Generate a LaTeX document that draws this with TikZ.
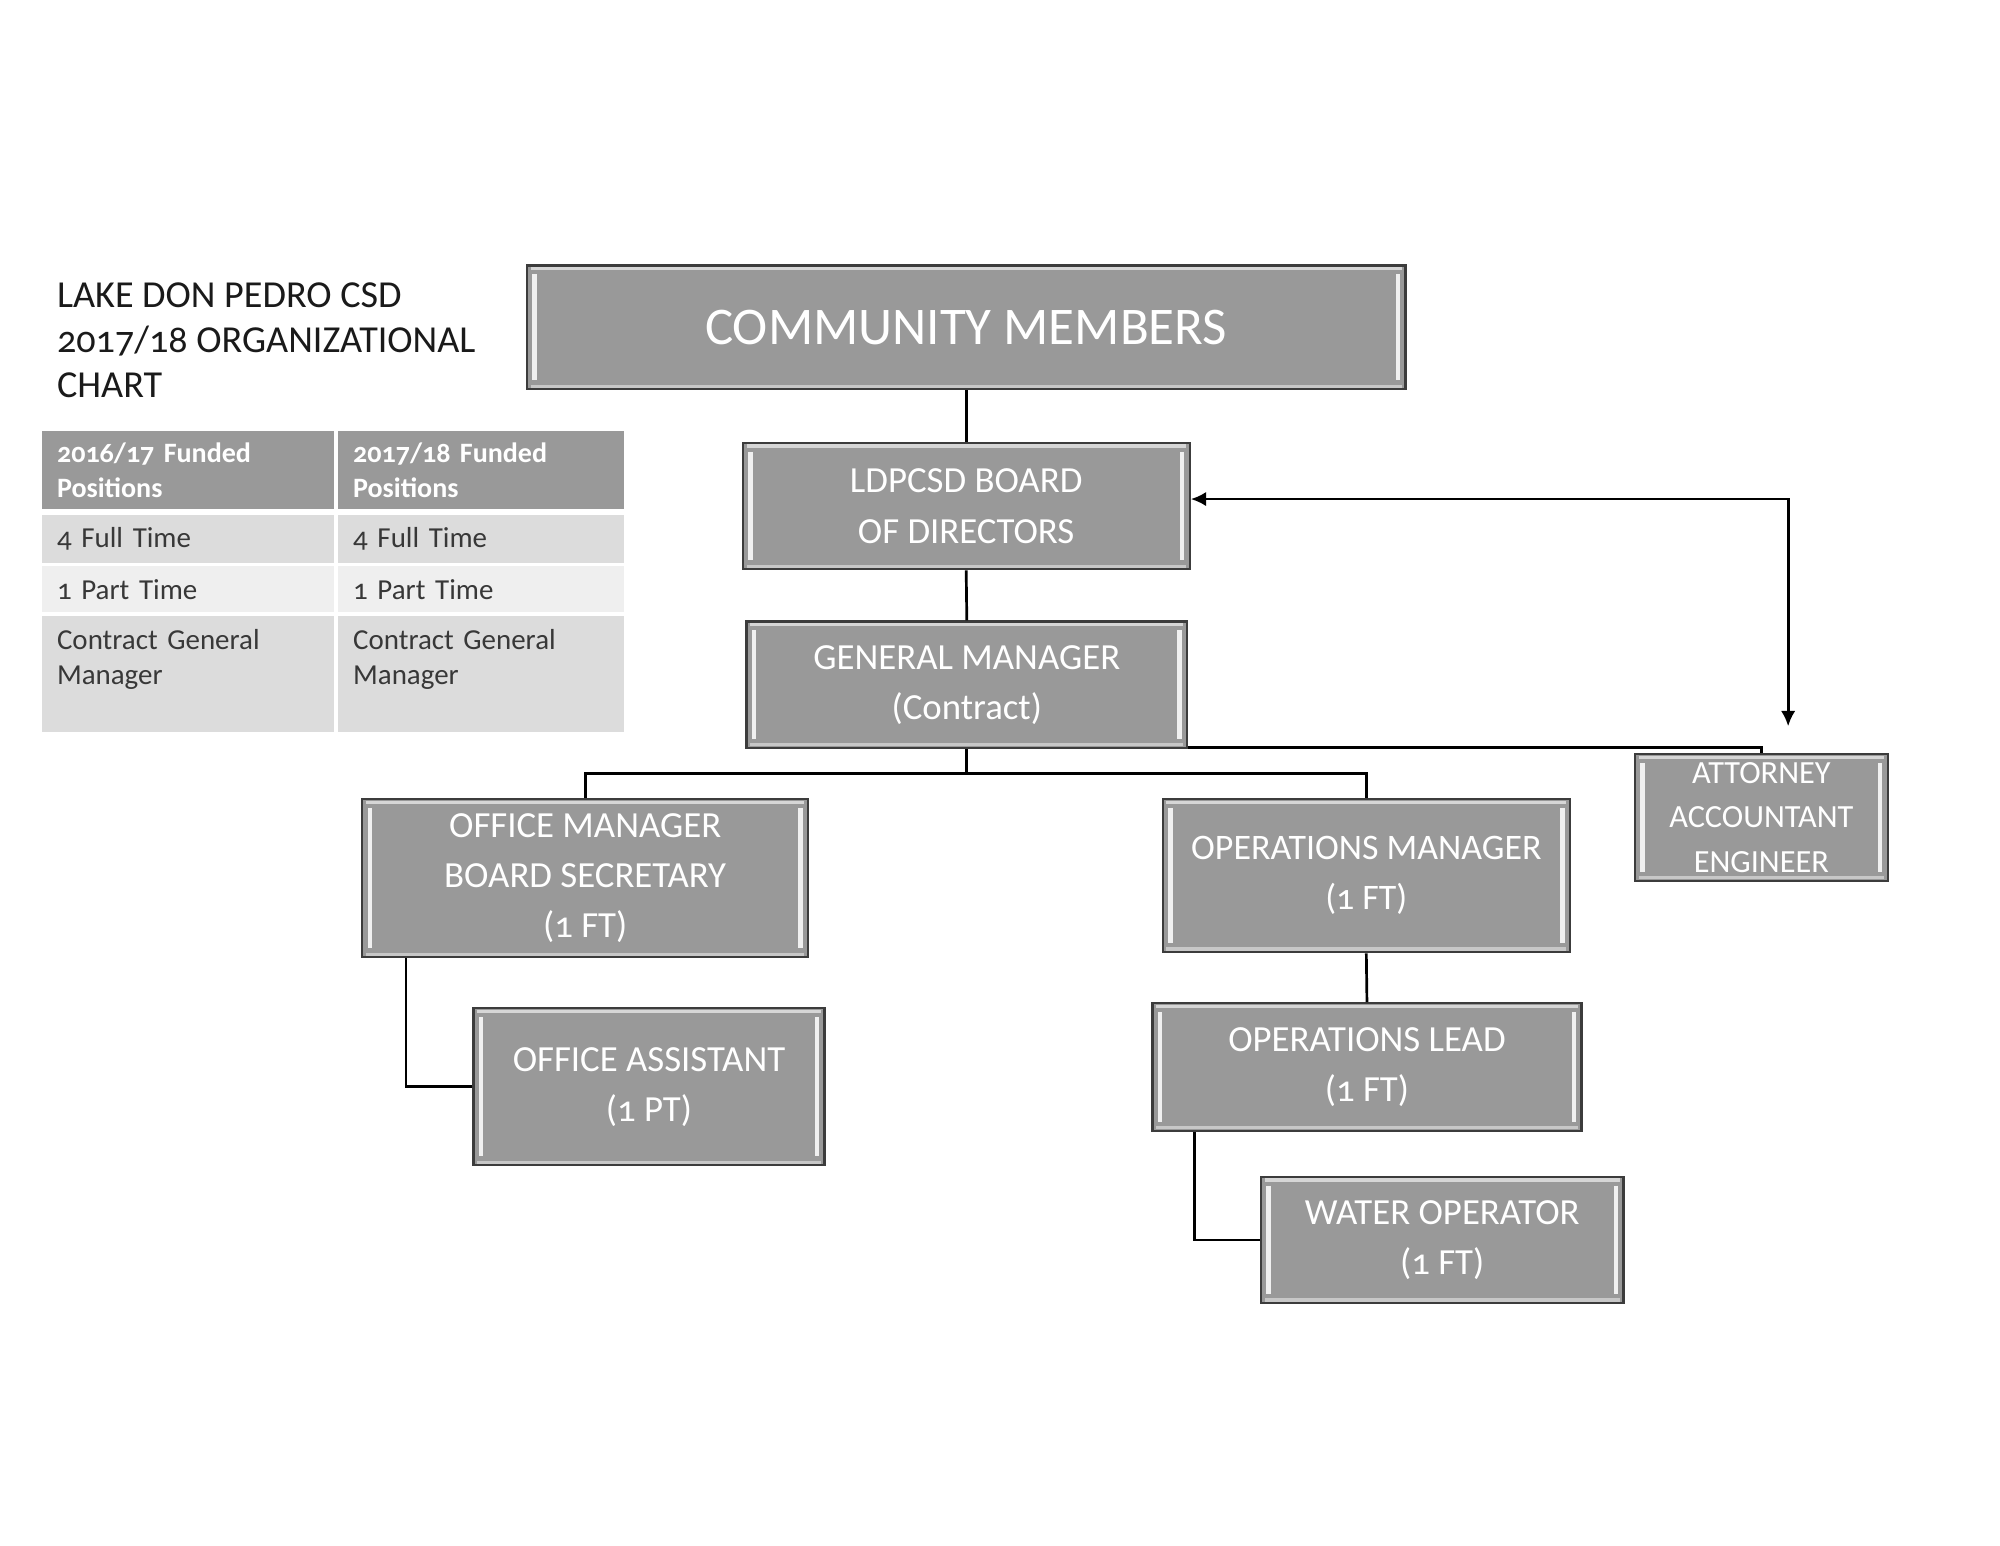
\documentclass[tikz,border=0pt]{standalone}
\usepackage{fontspec}
\setmainfont{Carlito}[Numbers=OldStyle]
\usetikzlibrary{arrows.meta}
\definecolor{boxgray}{HTML}{999999}
\definecolor{edgegray}{HTML}{3C3C3C}
\definecolor{rowdark}{HTML}{DCDCDC}
\definecolor{rowlight}{HTML}{EFEFEF}
\definecolor{bodytext}{HTML}{383838}
\definecolor{titletext}{HTML}{1A1A1A}
\tikzset{
  orgbox/.style={draw=edgegray, line width=0.5pt, fill=boxgray, text=white, align=center, inner sep=0pt,
    font=\fontsize{8.2}{11.2}\selectfont,
    path picture={
      \draw[white!85!boxgray, line width=1pt] ([shift={(6,7)}]path picture bounding box.north west) -- ([shift={(6,-7)}]path picture bounding box.south west);
      \draw[white!85!boxgray, line width=1pt] ([shift={(-6,7)}]path picture bounding box.north east) -- ([shift={(-6,-7)}]path picture bounding box.south east);
      \draw[white!60!boxgray, line width=0.7pt] ([shift={(3,2.5)}]path picture bounding box.north west) -- ([shift={(-3,2.5)}]path picture bounding box.north east);
      \draw[white!45!boxgray, line width=0.7pt] ([shift={(3,-2.5)}]path picture bounding box.south west) -- ([shift={(-3,-2.5)}]path picture bounding box.south east);
    }},
  cell/.style={anchor=north west, inner xsep=0.12cm, inner ysep=0pt, align=left, text=bodytext,
    font=\fontsize{6.45}{7.7}\selectfont},
  headcell/.style={cell, fill=boxgray, text=white, minimum height=0.61cm, font=\bfseries\fontsize{6.25}{7.7}\selectfont},
  link/.style={line width=0.6pt, black},
  >={Latex[length=3.4pt,width=3.2pt]}
}
\begin{document}
\begin{tikzpicture}[x=0.01cm, y=-0.01cm]
  \useasboundingbox[fill=white] (0,0) rectangle (1567,1211);

  \node[anchor=north west, inner sep=0pt, align=left, text=titletext, font=\fontsize{8.5}{10}\selectfont] (title) at (44,221)
    {LAKE DON PEDRO CSD\\2017/18 ORGANIZATIONAL\\CHART};

  \node[headcell, text width=2.05cm] (hA) at (32,337) {2016/17 Funded\\Positions};
  \node[headcell, text width=2.00cm] (hB) at (264,337) {2017/18 Funded\\Positions};
  \node[cell, fill=rowdark, text width=2.05cm, minimum height=0.37cm] (fA) at (32,403) {4 Full Time};
  \node[cell, fill=rowdark, text width=2.00cm, minimum height=0.37cm] (fB) at (264,403) {4 Full Time};
  \node[cell, fill=rowlight, text width=2.05cm, minimum height=0.36cm] (pA) at (32,443) {1 Part Time};
  \node[cell, fill=rowlight, text width=2.00cm, minimum height=0.36cm] (pB) at (264,443) {1 Part Time};
  \node[cell, fill=rowdark, text width=2.05cm, minimum height=0.91cm] (cA) at (32,482) {Contract General\\Manager\\~};
  \node[cell, fill=rowdark, text width=2.00cm, minimum height=0.91cm] (cB) at (264,482) {Contract General\\Manager\\~};

  \node[orgbox, minimum width=6.88cm, minimum height=0.97cm, font=\fontsize{11.8}{14}\selectfont] (comm) at (757,256.5) {COMMUNITY MEMBERS};
  \node[orgbox, minimum width=3.50cm, minimum height=0.99cm] (board) at (757,396.5) {LDPCSD BOARD\\OF DIRECTORS};
  \node[orgbox, minimum width=3.45cm, minimum height=0.99cm] (gm) at (757.5,536.5) {GENERAL MANAGER\\(Contract)};
  \node[orgbox, minimum width=3.49cm, minimum height=1.24cm] (offmgr) at (458.5,688) {OFFICE MANAGER\\BOARD SECRETARY\\(1 FT)};
  \node[orgbox, minimum width=2.75cm, minimum height=1.23cm] (offasst) at (508.5,851.5) {OFFICE ASSISTANT\\(1 PT)};
  \node[orgbox, minimum width=3.19cm, minimum height=1.20cm, font=\fontsize{8}{11.2}\selectfont] (opsmgr) at (1070.5,686) {OPERATIONS MANAGER\\(1 FT)};
  \node[orgbox, minimum width=3.36cm, minimum height=1.00cm] (opslead) at (1071,836) {OPERATIONS LEAD\\(1 FT)};
  \node[orgbox, minimum width=2.84cm, minimum height=0.99cm] (water) at (1130,971.5) {WATER OPERATOR\\(1 FT)};
  \node[orgbox, minimum width=1.98cm, minimum height=0.99cm, font=\fontsize{7.2}{9.9}\selectfont] (legal) at (1380,640.5) {ATTORNEY\\ACCOUNTANT\\ENGINEER};

  \coordinate (legaltip) at (1401,569);

  \draw[link] (comm.south) -- (board.north);
  \draw[link] (board.south) -- (gm.north);
  \draw[link] (gm.south) -- ++(0,19) coordinate (bus) -| (offmgr.north);
  \draw[link] (bus) -| (opsmgr.north);
  \draw[link] ([yshift=0.01cm]gm.south east) -| (legal.north);
  \draw[link, <->] ([yshift=0.055cm]board.east) -| (legaltip);
  \draw[link] ([xshift=0.35cm]offmgr.south west) |- (offasst.west);
  \draw[link] (opsmgr.south) -- (opslead.north);
  \draw[link] ([xshift=0.34cm]opslead.south west) |- (water.west);
\end{tikzpicture}
\end{document}
